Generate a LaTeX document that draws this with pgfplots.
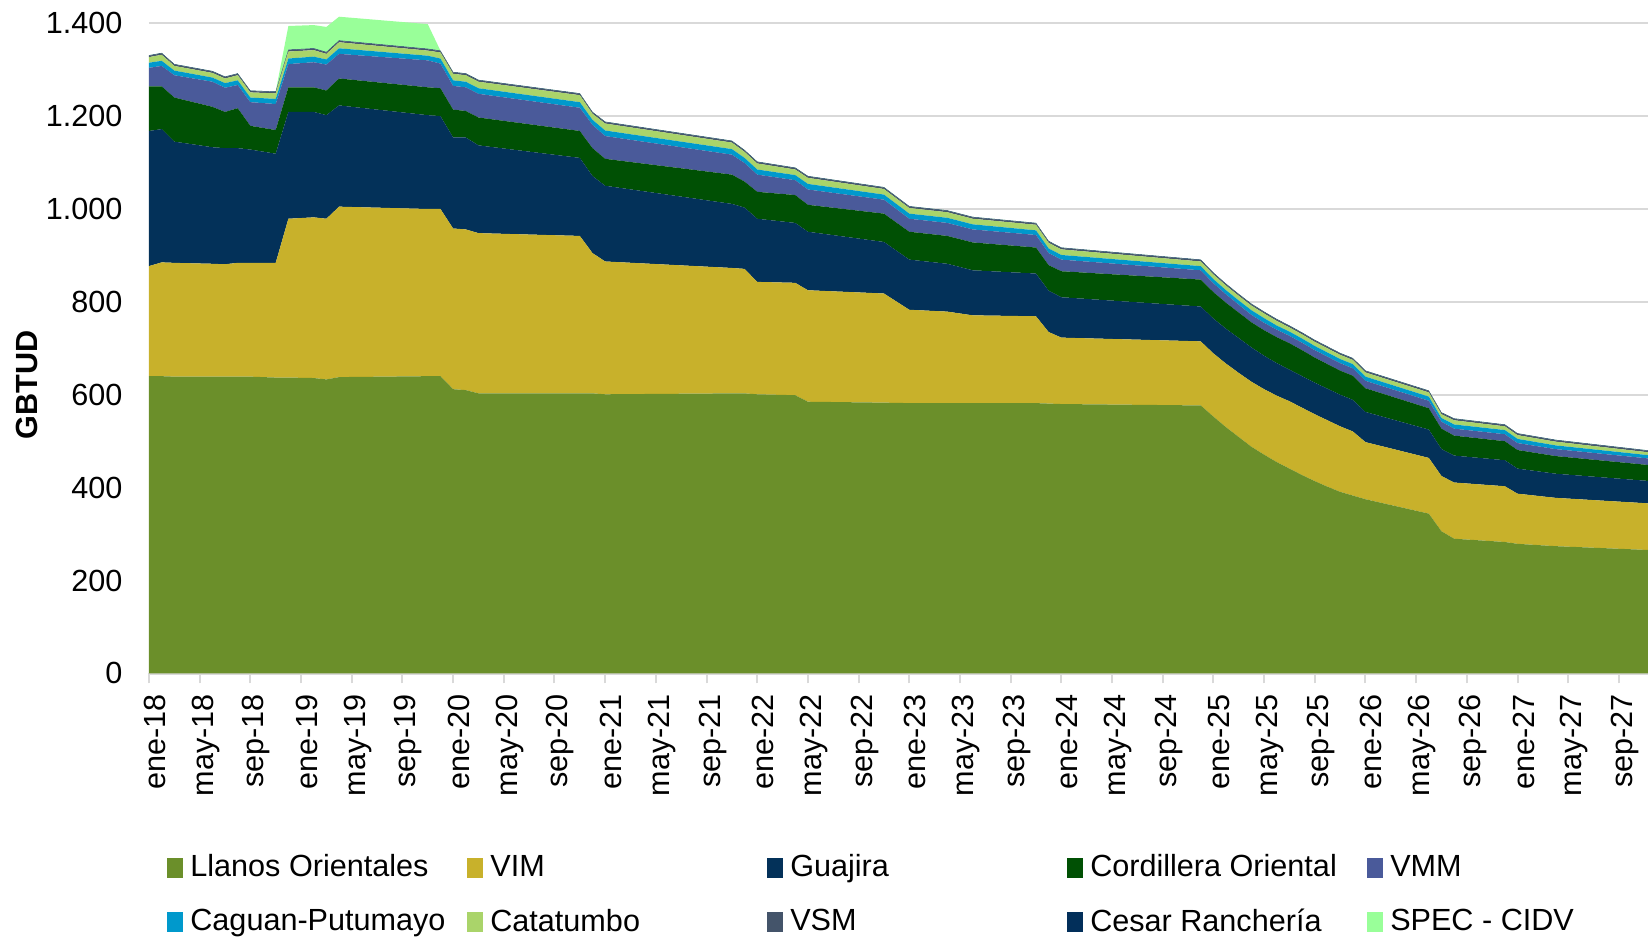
\documentclass[border=0pt]{standalone}
\usepackage{fontspec}
\setmainfont{Liberation Sans}
\usepackage{pgfplots}
\usepackage{pgfplotstable}
\pgfplotsset{compat=1.18}
\definecolor{cLlanos}{HTML}{6B8F2A}
\definecolor{cVIM}{HTML}{C8B12B}
\definecolor{cGuaj}{HTML}{033159}
\definecolor{cCord}{HTML}{005004}
\definecolor{cVMM}{HTML}{4A5A9A}
\definecolor{cCag}{HTML}{0099CC}
\definecolor{cCat}{HTML}{AAD46A}
\definecolor{cVSM}{HTML}{44546A}
\definecolor{cCes}{HTML}{022F5A}
\definecolor{cSpec}{HTML}{99FF99}
\definecolor{cGrid}{HTML}{D9D9D9}

\pgfplotstableread{
m L V G C M Cag Cat VSM Ces SP
0 640 237 291 96 40 11 12 3 1 0
1 640 245 287 92 44 11 13 3 1 0
2 639 245 261 95 48 10 10 3 1 0
5 639 243 251 87 54 9 10 3 1 0
6 639 242 250 78 52 10 10 3 1 0
7 639 245 247 86 50 10 11 3 1 0
8 639 245 244 51 51 10 11 3 1 0
10 637 247 235 51 56 11 12 3 1 0
11 637 342 230 53 50 12 15 3 1 51
13 636 346 227 53 54 12 14 3 1 50
14 633 346 223 53 56 11 12 3 1 54
15 638 367 218 58 53 12 13 3 1 51
22 640 360 202 60 58 10 11 3 1 53
23 640 360 200 60 53 11 13 3 1 0
24 612 346 196 60 51 12 14 3 1 0
25 610 346 198 57 51 12 14 3 1 0
26 603 345 189 60 51 12 14 3 1 0
34 603 339 168 58 50 12 15 3 1 0
35 603 302 166 60 50 11 13 3 1 0
36 601 286 163 58 49 12 15 3 1 0
46 603 270 138 63 43 12 14 3 1 0
47 603 268 132 56 40 11 13 3 1 0
48 601 242 136 58 37 11 13 3 1 0
51 599 242 129 60 32 11 12 3 1 0
52 585 240 126 58 33 12 13 3 1 0
58 583 235 111 61 30 11 12 3 1 0
60 582 201 108 60 28 11 12 3 1 0
63 582 197 103 60 28 11 12 3 1 0
65 582 189 97 60 28 11 12 3 1 0
70 582 187 92 56 27 10 12 3 1 0
71 581 154 89 55 26 10 12 3 1 0
72 580 143 87 56 25 10 12 3 1 0
83 577 138 75 58 20 9 10 3 1 0
84 553 136 75 57 19 9 10 3 1 0
85 530 137 75 56 18 9 10 3 1 0
86 509 138 75 55 17 9 10 3 1 0
87 488 140 74 54 16 10 10 3 1 0
88 471 141 72 55 16 10 10 3 1 0
89 455 143 70 56 16 9 10 3 1 0
90 441 145 68 57 16 9 9 3 1 0
91 427 145 68 56 16 9 9 3 1 0
92 414 144 68 54 16 9 9 3 1 0
93 402 143 68 53 16 9 9 3 1 0
94 391 141 68 52 16 9 9 3 1 0
95 383 138 68 52 16 9 9 3 1 0
96 375 123 65 51 16 9 9 3 1 0
101 344 120 61 46 16 9 9 3 1 0
102 306 119 58 44 15 8 8 3 1 0
103 290 121 58 43 15 9 9 3 1 0
107 283 120 56 41 15 9 8 3 1 0
108 279 108 54 40 15 9 8 3 1 0
111 274 104 52 38 15 8 8 3 1 0
119 265 100 48 34 14 7 6 3 1 0
}\datatable

\begin{document}
\fontsize{15.3bp}{17.5bp}\selectfont
\begin{tikzpicture}
\begin{axis}[
  at={(0,0)}, anchor=south west,
  scale only axis, width=749.5bp, height=336.7bp,
  xmin=0, xmax=118.3, ymin=0, ymax=1450,
  stack plots=y,
  axis x line*=bottom, axis y line*=left,
  x axis line style={draw=cGrid, line width=1.2bp, -},
  y axis line style={draw=none},
  ymajorgrids, grid style={cGrid, line width=1bp},
  ytick={0,200,...,1400},
  ytick style={draw=none},
  xtick={0,4,...,116},
  xticklabels={ene-18,may-18,sep-18,ene-19,may-19,sep-19,ene-20,may-20,sep-20,ene-21,may-21,sep-21,ene-22,may-22,sep-22,ene-23,may-23,sep-23,ene-24,may-24,sep-24,ene-25,may-25,sep-25,ene-26,may-26,sep-26,ene-27,may-27,sep-27},
  xtick align=outside,
  major tick length=5bp,
  xtick style={draw=cGrid, line width=1bp},
  x tick label style={rotate=90, anchor=east, font=\fontsize{15.3bp}{17.5bp}\selectfont, yshift=-3bp},
  y tick label style={font=\fontsize{15.3bp}{17.5bp}\selectfont, xshift=-8bp},
  scaled y ticks=false,
  /pgf/number format/1000 sep={.},
  /pgf/number format/assume math mode=true,
  ylabel={\bfseries GBTUD},
  ylabel style={at={(axis description cs:-0.0814,0.428)}, anchor=center, font=\fontsize{15.3bp}{17.5bp}\selectfont},
  legend columns=5,
  legend image code/.code={\fill[#1,draw=none] (0bp,-5bp) rectangle (8bp,5bp);},
  legend style={at={(0,0)}, anchor=north west, xshift=9bp, yshift=-88.5bp, draw=none, fill=none, inner sep=0pt, row sep=9.6bp, font=\fontsize{15.3bp}{17.5bp}\selectfont, /tikz/every even column/.append style={column sep=1bp}, /tikz/every odd column/.append style={column sep=1.5bp}},
]
\addplot[fill=cLlanos, draw=none] table[x=m, y=L] {\datatable} \closedcycle;
\addlegendentry{\makebox[135.5bp][l]{Llanos Orientales}}
\addplot[fill=cVIM, draw=none] table[x=m, y=V] {\datatable} \closedcycle;
\addlegendentry{\makebox[135.5bp][l]{VIM}}
\addplot[fill=cGuaj, draw=none] table[x=m, y=G] {\datatable} \closedcycle;
\addlegendentry{\makebox[135.5bp][l]{Guajira}}
\addplot[fill=cCord, draw=none] table[x=m, y=C] {\datatable} \closedcycle;
\addlegendentry{\makebox[135.5bp][l]{Cordillera Oriental}}
\addplot[fill=cVMM, draw=none] table[x=m, y=M] {\datatable} \closedcycle;
\addlegendentry{\makebox[135.5bp][l]{VMM}}
\addplot[fill=cCag, draw=none] table[x=m, y=Cag] {\datatable} \closedcycle;
\addlegendentry{\makebox[135.5bp][l]{Caguan-Putumayo}}
\addplot[fill=cCat, draw=none] table[x=m, y=Cat] {\datatable} \closedcycle;
\addlegendentry{\makebox[135.5bp][l]{Catatumbo}}
\addplot[fill=cVSM, draw=none] table[x=m, y=VSM] {\datatable} \closedcycle;
\addlegendentry{\makebox[135.5bp][l]{VSM}}
\addplot[fill=cCes, draw=none] table[x=m, y=Ces] {\datatable} \closedcycle;
\addlegendentry{\makebox[135.5bp][l]{Cesar Ranchería}}
\addplot[fill=cSpec, draw=none] table[x=m, y=SP] {\datatable} \closedcycle;
\addlegendentry{\makebox[135.5bp][l]{SPEC - CIDV}}
\end{axis}
\pgfresetboundingbox
\path[use as bounding box] (-74.5bp,-131.8bp) rectangle (749.5bp,336.7bp);
\end{tikzpicture}
\end{document}
